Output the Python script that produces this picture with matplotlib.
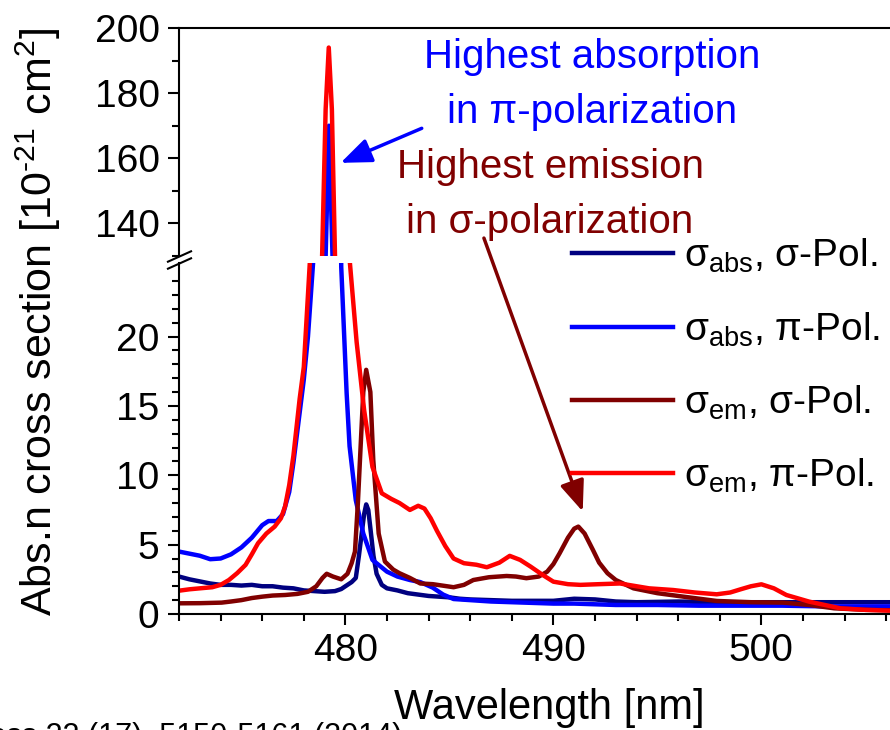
import matplotlib as mpl
mpl.use('Agg')
import matplotlib.pyplot as plt
from matplotlib.ticker import MultipleLocator

plt.rcParams['font.family'] = ['Liberation Sans', 'DejaVu Sans']
plt.rcParams['mathtext.fontset'] = 'custom'
plt.rcParams['mathtext.rm'] = 'Liberation Sans'
plt.rcParams['mathtext.it'] = 'Liberation Sans:italic'
plt.rcParams['mathtext.default'] = 'regular'

# sigma_abs, sigma polarization
wl_abs_s = [472.0, 472.5, 473.0, 473.5, 474.0, 474.5, 475.0, 475.5, 476.0, 476.5,
            477.0, 477.5, 478.0, 478.5, 479.0, 479.5, 479.8, 480.1, 480.3, 480.5,
            480.65, 480.8, 480.9, 481.0, 481.1, 481.2, 481.35, 481.5, 481.75, 482.0,
            482.5, 483.0, 483.5, 484.0, 484.5, 485.0, 485.5, 486.0, 487.0, 488.0,
            489.0, 490.0, 491.0, 492.0, 493.0, 494.0, 496.0, 498.0, 500.0, 502.0,
            504.0, 506.0, 508.0]
abs_s = [2.7, 2.5, 2.35, 2.2, 2.1, 2.1, 2.05, 2.1, 2.0, 2.0,
         1.9, 1.85, 1.7, 1.65, 1.6, 1.65, 1.8, 2.1, 2.3, 2.6,
         4.2, 6.0, 7.2, 7.9, 7.5, 6.2, 4.2, 2.9, 2.1, 1.85,
         1.7, 1.5, 1.4, 1.3, 1.25, 1.2, 1.1, 1.05, 1.0, 0.95,
         0.95, 0.95, 1.1, 1.05, 0.9, 0.85, 0.9, 0.85, 0.85, 0.85,
         0.85, 0.85, 0.85]

# sigma_abs, pi polarization
wl_abs_p = [472.0, 472.5, 473.0, 473.5, 474.0, 474.5, 475.0, 475.5, 476.0, 476.3,
            476.7, 477.0, 477.3, 477.5, 477.8, 478.0, 478.2, 478.46, 478.7, 478.9,
            479.05, 479.21, 479.38, 479.55, 479.7, 479.8, 480.06, 480.2, 480.5, 480.86,
            481.3, 482.0, 482.5, 483.1, 483.6, 484.2, 484.7, 485.2, 486.0, 487.0,
            488.0, 489.0, 490.0, 491.0, 492.0, 493.0, 495.0, 497.0, 499.0, 501.0,
            503.0, 505.0, 508.0]
abs_p = [4.5, 4.35, 4.2, 3.95, 4.0, 4.3, 4.8, 5.5, 6.4, 6.7,
         6.7, 7.2, 8.8, 10.9, 14.5, 16.9, 20.0, 25.6, 45.0, 80.0,
         130.0, 170.0, 130.0, 75.0, 40.0, 25.0, 15.9, 12.1, 8.2, 5.8,
         3.9, 3.05, 2.7, 2.45, 2.3, 1.9, 1.4, 1.08, 1.0, 0.9,
         0.85, 0.8, 0.75, 0.75, 0.7, 0.65, 0.65, 0.6, 0.6, 0.6,
         0.55, 0.55, 0.55]

# sigma_em, sigma polarization
wl_em_s = [472.0, 473.0, 474.05, 474.5, 475.0, 475.5, 476.0, 476.5, 477.1, 477.7,
           478.2, 478.6, 478.9, 479.1, 479.4, 479.8, 480.1, 480.3, 480.46, 480.6,
           480.7, 480.86, 481.0, 481.2, 481.34, 481.6, 481.9, 482.3, 482.6, 483.1,
           483.6, 484.2, 485.2, 485.7, 486.15, 486.9, 487.75, 488.2, 488.7, 489.3,
           489.7, 490.0, 490.3, 490.7, 491.0, 491.2, 491.5, 491.9, 492.2, 492.6,
           493.0, 493.85, 495.0, 496.25, 497.85, 499.5, 501.05, 502.3, 503.5, 505.0,
           506.2, 508.0]
em_s = [0.77, 0.78, 0.82, 0.9, 1.0, 1.15, 1.25, 1.33, 1.37, 1.45,
        1.6, 2.0, 2.6, 2.9, 2.7, 2.5, 2.9, 3.66, 4.5, 8.0,
        11.1, 16.0, 17.6, 16.0, 11.1, 5.8, 3.78, 3.2, 2.94, 2.6,
        2.2, 2.15, 1.93, 2.1, 2.45, 2.65, 2.74, 2.7, 2.58, 2.7,
        3.05, 3.6, 4.38, 5.5, 6.15, 6.3, 5.8, 4.62, 3.7, 2.94,
        2.45, 1.85, 1.5, 1.25, 0.94, 0.85, 0.82, 0.65, 0.41, 0.3,
        0.27, 0.25]

# sigma_em, pi polarization
wl_em_p = [472.0, 472.5, 473.0, 473.6, 474.0, 474.4, 474.8, 475.2, 475.5, 475.8,
           476.2, 476.6, 476.9, 477.1, 477.3, 477.5, 477.8, 478.0, 478.3, 478.6,
           478.88, 479.05, 479.2, 479.35, 479.5, 479.8, 480.2, 480.54, 480.9, 481.3,
           481.75, 482.2, 482.6, 483.1, 483.5, 483.8, 484.1, 484.4, 484.8, 485.2,
           485.7, 486.3, 486.8, 487.4, 487.9, 488.4, 488.9, 489.5, 490.0, 490.7,
           491.3, 492.2, 493.2, 494.0, 494.6, 495.75, 496.8, 497.85, 498.5, 499.0,
           499.5, 500.0, 500.6, 501.2, 502.3, 503.8, 505.0, 506.2, 508.0]
em_p = [1.68, 1.78, 1.85, 1.93, 2.1, 2.45, 2.95, 3.54, 4.3, 5.1,
        5.8, 6.3, 6.9, 7.75, 9.3, 11.4, 15.5, 17.8, 25.6, 60.0,
        130.0, 175.0, 194.0, 175.0, 130.0, 60.0, 25.6, 19.6, 14.7, 10.6,
        8.7, 8.3, 8.0, 7.5, 7.8, 7.6, 6.9, 6.0, 4.9, 4.0,
        3.66, 3.55, 3.37, 3.7, 4.19, 3.9, 3.42, 2.8, 2.33, 2.15,
        2.1, 2.15, 2.2, 2.0, 1.85, 1.73, 1.55, 1.42, 1.55, 1.78,
        2.0, 2.14, 1.85, 1.37, 0.89, 0.41, 0.3, 0.24, 0.2]

series = [
    (wl_abs_s, abs_s, '#000080', 'σ$_{abs}$, σ-Pol.'),
    (wl_abs_p, abs_p, '#0000FF', 'σ$_{abs}$, π-Pol.'),
    (wl_em_s, em_s, '#800000', 'σ$_{em}$, σ-Pol.'),
    (wl_em_p, em_p, '#FF0000', 'σ$_{em}$, π-Pol.'),
]

W, H = 890.0, 730.0
fig = plt.figure(figsize=(8.9, 7.3), dpi=100)
# the original picture is cropped at the right, so the axes stop at the edge
left = 179 / W
x_end = 472 + (W - 179) / 20.8
ax_top = fig.add_axes([left, 1 - 256 / H, 1 - left, (256 - 28) / H])
ax_bot = fig.add_axes([left, 1 - 614 / H, 1 - left, (614 - 263) / H])

for ax in (ax_top, ax_bot):
    for x, y, c, lab in series:
        ax.plot(x, y, color=c, lw=3.2, label=lab)
    ax.set_xlim(472, x_end)
    ax.spines['right'].set_visible(False)
    for s in ax.spines.values():
        s.set_linewidth(1.5)
    ax.tick_params(which='major', direction='out', length=8, width=1.5, labelsize=28, pad=6)
    ax.tick_params(which='minor', direction='out', length=5, width=1.5)
    ax.xaxis.set_major_locator(MultipleLocator(10))
    ax.xaxis.set_minor_locator(MultipleLocator(2))

ax_top.set_ylim(130, 200)
ax_top.yaxis.set_major_locator(MultipleLocator(20))
ax_top.yaxis.set_minor_locator(MultipleLocator(10))
ax_top.spines['bottom'].set_visible(False)
ax_top.tick_params(axis='x', which='both', bottom=False, labelbottom=False)

ax_bot.set_ylim(0, 25.3)
ax_bot.set_yticks([0, 5, 10, 15, 20])
ax_bot.set_yticks([y for y in range(1, 25) if y % 5], minor=True)
ax_bot.spines['top'].set_visible(False)

# break marks on the y axis
kw = dict(marker=[(-1, -0.45), (1, 0.45)], markersize=18, linestyle='none',
          color='k', mec='k', mew=1.5, clip_on=False)
ax_top.plot([0], [0], transform=ax_top.transAxes, **kw)
ax_bot.plot([0], [1], transform=ax_bot.transAxes, **kw)

leg = ax_bot.legend(loc='upper left', bbox_to_anchor=(572 / W, 1 - 237 / H),
                    bbox_transform=fig.transFigure, frameon=False, fontsize=28,
                    handlelength=2.6, handletextpad=0.28, labelspacing=0.9,
                    borderpad=0, borderaxespad=0)

ax_top.text(491.88, 182.6, 'Highest absorption\nin π-polarization', color='#0000FF',
            fontsize=29, ha='center', va='center', multialignment='center', linespacing=1.55)
ax_top.text(489.84, 148.9, 'Highest emission\nin σ-polarization', color='#800000',
            fontsize=29, ha='center', va='center', multialignment='center', linespacing=1.55)

ax_top.annotate('', xy=(479.77, 158.6), xytext=(483.67, 169.2),
                arrowprops=dict(arrowstyle='-|>,head_length=0.75,head_width=0.3',
                                color='#0000FF', lw=2.5, mutation_scale=25,
                                shrinkA=0, shrinkB=0))
ax_bot.annotate('', xy=(491.41, 7.39), xycoords='data',
                xytext=(486.66, 135.5), textcoords=ax_top.transData,
                annotation_clip=False,
                arrowprops=dict(arrowstyle='-|>,head_length=0.75,head_width=0.3',
                                color='#800000', lw=2.5, mutation_scale=25,
                                shrinkA=0, shrinkB=0))

fig.text(38 / W, 1 - 322 / H, 'Abs.n cross section [10$^{\u201021}$ cm$^{2}$]',
         rotation=90, ha='center', va='center', fontsize=31)
fig.text(549.5 / W, 1 - 708 / H, 'Wavelength [nm]', ha='center', va='center', fontsize=30)
fig.text(402 / W, -15 / H, 'Opt. Express 22 (17), 5150-5161 (2014)',
         ha='right', va='baseline', fontsize=22)

fig.savefig('out.png', dpi=100)
